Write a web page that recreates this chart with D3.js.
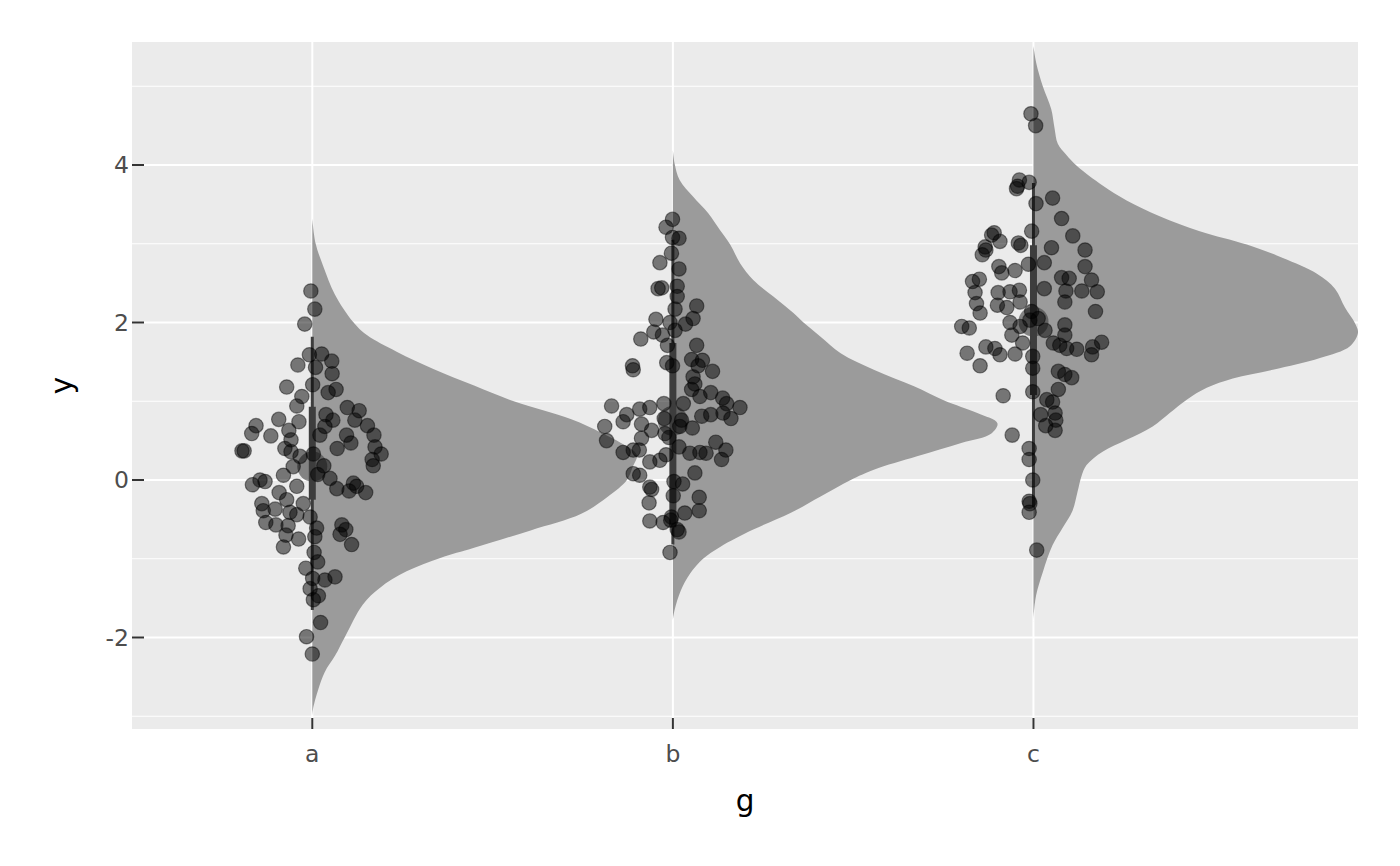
<!DOCTYPE html>
<html>
<head>
<meta charset="utf-8">
<script src="https://cdn.jsdelivr.net/npm/d3@7"></script>
<style>
  html, body { margin: 0; padding: 0; background: #ffffff; }
  svg { display: block; }
  text { font-family: "DejaVu Sans", sans-serif; }
</style>
</head>
<body>
<svg id="chart" width="1400" height="866"></svg>
<script>
// ---------------- DATA ----------------
const categories = ["a", "b", "c"];
const yTicks = [-2, 0, 2, 4];
const yMinorTicks = [-3, -1, 1, 3, 5];
const yTickLabels = ["-2", "0", "2", "4"];

// jittered points: [horizontal jitter (category units), y value]
const pointsA = [
  [-0.004,2.40],[0.007,2.17],[-0.021,1.98],[-0.008,1.59],[0.026,1.60],[0.054,1.51],[-0.040,1.46],[0.009,1.43],
  [0.055,1.35],[0.001,1.21],[-0.071,1.18],[0.044,1.11],[0.066,1.15],[-0.029,1.06],[-0.043,0.94],[0.097,0.92],
  [0.130,0.88],[0.038,0.83],[0.057,0.76],[-0.093,0.77],[-0.037,0.74],[0.118,0.76],[-0.156,0.69],[-0.168,0.59],
  [-0.115,0.56],[-0.065,0.63],[0.035,0.68],[0.021,0.57],[0.153,0.69],[0.171,0.57],[0.095,0.57],[0.107,0.47],
  [0.069,0.40],[-0.059,0.51],[-0.076,0.40],[-0.059,0.36],[-0.034,0.30],[-0.195,0.37],[-0.189,0.37],[0.174,0.42],
  [0.191,0.33],[0.166,0.26],[0.169,0.18],[0.003,0.33],[-0.053,0.17],[0.032,0.18],[-0.080,0.06],[0.015,0.07],
  [0.049,0.02],[-0.145,0.00],[-0.166,-0.06],[-0.131,-0.02],[-0.043,-0.08],[0.068,-0.11],[0.114,-0.04],[0.123,-0.08],
  [0.148,-0.16],[0.102,-0.14],[-0.092,-0.16],[-0.071,-0.25],[-0.140,-0.30],[-0.136,-0.39],[-0.103,-0.37],[-0.025,-0.30],
  [-0.062,-0.41],[-0.043,-0.44],[-0.006,-0.47],[-0.129,-0.54],[-0.101,-0.57],[-0.067,-0.58],[0.012,-0.61],[0.082,-0.57],
  [0.093,-0.63],[0.077,-0.69],[-0.073,-0.70],[-0.038,-0.75],[-0.080,-0.85],[0.007,-0.72],[0.109,-0.82],[0.005,-0.92],
  [0.015,-1.04],[-0.018,-1.12],[0.063,-1.23],[0.035,-1.27],[0.001,-1.25],[-0.006,-1.38],[0.017,-1.47],[0.003,-1.52],
  [0.023,-1.81],[-0.016,-1.99],[0.000,-2.21]
];
const pointsB = [
  [-0.001,3.31],[-0.019,3.21],[-0.001,3.08],[0.017,3.07],[-0.004,2.88],[-0.036,2.76],[0.017,2.68],[-0.041,2.43],
  [-0.031,2.44],[0.012,2.46],[0.012,2.33],[0.006,2.17],[0.066,2.21],[0.056,2.05],[-0.047,2.04],[-0.008,2.00],
  [0.035,1.98],[-0.053,1.88],[0.006,1.90],[-0.029,1.84],[-0.089,1.79],[-0.015,1.71],[0.066,1.71],[-0.017,1.49],
  [-0.001,1.45],[-0.112,1.45],[-0.110,1.40],[0.052,1.53],[0.070,1.45],[0.082,1.52],[0.110,1.38],[0.056,1.31],
  [0.061,1.22],[0.052,1.15],[0.075,1.06],[0.105,1.11],[0.138,1.04],[0.149,0.97],[0.186,0.92],[0.161,0.78],
  [0.139,0.85],[0.105,0.83],[0.080,0.81],[0.029,0.97],[-0.025,0.97],[-0.064,0.92],[-0.092,0.90],[-0.170,0.94],
  [-0.128,0.83],[-0.138,0.74],[-0.024,0.78],[0.024,0.76],[0.019,0.68],[0.054,0.66],[-0.087,0.71],[-0.189,0.68],
  [-0.184,0.50],[-0.059,0.63],[-0.022,0.59],[-0.011,0.54],[-0.087,0.53],[0.017,0.42],[0.119,0.48],[0.147,0.38],
  [0.047,0.34],[0.075,0.35],[0.092,0.34],[0.135,0.26],[-0.138,0.35],[-0.110,0.38],[-0.093,0.38],[-0.019,0.32],
  [-0.036,0.25],[-0.064,0.23],[-0.110,0.08],[-0.092,0.06],[0.061,0.09],[0.003,-0.02],[0.027,-0.05],[-0.064,-0.09],
  [-0.059,-0.12],[0.001,-0.20],[0.073,-0.22],[-0.066,-0.29],[0.073,-0.39],[0.033,-0.42],[-0.004,-0.47],[-0.064,-0.52],
  [-0.027,-0.54],[-0.006,-0.51],[0.012,-0.63],[0.017,-0.66],[-0.008,-0.92]
];
const pointsC = [
  [-0.007,4.65],[0.006,4.50],[-0.039,3.81],[-0.047,3.70],[-0.012,3.78],[-0.044,3.73],[0.007,3.51],[0.053,3.58],
  [0.078,3.32],[0.109,3.10],[0.143,2.92],[0.143,2.71],[0.161,2.54],[0.177,2.39],[0.172,2.14],[0.050,2.95],
  [-0.005,3.16],[-0.109,3.14],[-0.116,3.11],[-0.093,3.03],[-0.134,2.96],[-0.132,2.92],[-0.142,2.86],[-0.042,3.01],
  [-0.035,2.98],[0.030,2.76],[-0.014,2.74],[-0.096,2.71],[-0.088,2.63],[-0.051,2.66],[0.078,2.57],[0.099,2.56],
  [-0.169,2.52],[-0.150,2.55],[-0.162,2.38],[-0.098,2.38],[-0.065,2.39],[-0.039,2.41],[0.030,2.43],[0.090,2.40],
  [0.134,2.40],[0.087,2.26],[-0.158,2.24],[-0.100,2.22],[-0.074,2.19],[-0.037,2.26],[-0.148,2.12],[-0.005,2.14],
  [0.013,2.05],[-0.010,2.03],[-0.065,2.00],[-0.199,1.95],[-0.178,1.93],[-0.037,1.95],[0.032,1.90],[-0.060,1.84],
  [0.087,1.97],[0.087,1.84],[0.055,1.74],[0.073,1.71],[0.092,1.67],[0.120,1.66],[0.164,1.69],[0.161,1.59],
  [0.189,1.75],[-0.030,1.74],[-0.132,1.69],[-0.107,1.67],[-0.093,1.59],[-0.051,1.60],[-0.184,1.61],[-0.148,1.45],
  [-0.002,1.57],[-0.002,1.42],[0.069,1.38],[0.087,1.34],[0.106,1.30],[0.069,1.15],[-0.002,1.12],[-0.084,1.07],
  [0.037,1.02],[0.053,0.99],[0.020,0.83],[0.060,0.85],[0.062,0.76],[0.034,0.69],[0.060,0.63],[-0.059,0.57],
  [-0.012,0.40],[-0.012,0.26],[-0.002,0.00],[-0.012,-0.27],[-0.010,-0.30],[-0.012,-0.41],[0.009,-0.89]
];

// half-violin (slab) density profiles: y values and relative density
const slabYA = [3.32,3.00,2.70,2.36,2.01,1.84,1.63,1.41,1.20,1.00,0.77,0.60,0.47,0.32,0.17,0.00,-0.21,-0.43,-0.64,-0.86,-0.99,-1.16,-1.37,-1.58,-1.99,-2.23,-2.44,-2.66,-2.91,-3.00];
const slabDA = [0,3.4,11.5,22.6,41,55,85,122,163,203,261,291,311,327,323,317,298,271,220,163,129,95,68,51,33,23,12.5,6,0.7,0];
const slabYB = [4.19,4.02,3.81,3.60,3.39,3.17,2.99,2.75,2.54,2.33,2.12,2.00,1.82,1.61,1.40,1.19,1.01,0.85,0.72,0.59,0.47,0.30,0.13,0.00,-0.21,-0.42,-0.63,-0.85,-1.00,-1.19,-1.40,-1.65,-1.78];
const slabDB = [0,1.7,6.7,20,35,47,57,67,80,100,120,130,147,167,200,240,270,303,323,317,287,243,200,177,147,117,80,47,30,17,8,1.7,0];
const slabYC = [5.51,5.30,5.00,4.71,4.47,4.27,4.13,3.98,3.74,3.55,3.35,3.16,2.99,2.82,2.62,2.43,2.19,1.99,1.87,1.70,1.55,1.40,1.29,1.17,1.02,0.85,0.68,0.51,0.36,0.19,0.05,-0.15,-0.39,-0.61,-0.83,-1.17,-1.46,-1.70,-1.80];
const slabDC = [0,2.7,9.3,17.7,21,24.3,32.7,44,69,93,126,166,213,249,283,301,311,321,324,316,286,239,199,173,153,136,119,93,69,53,48,44,39,29,19,9.3,2.7,0.3,0];

// point + interval summaries
const medians   = [0.17, 0.75, 2.01];
const thickLow  = [-0.25, -0.60, 1.08];
const thickHigh = [0.93, 1.74, 2.98];
const thinLow   = [-1.65, -0.82, -0.34];
const thinHigh  = [1.82, 3.05, 3.77];

const xTitle = "g";
const yTitle = "y";

// ---------------- LAYOUT ----------------
const svg = d3.select("#chart");
const panel = { left: 132, right: 1358, top: 42, bottom: 729 };
const slabScale = 0.9;

const x = d3.scaleLinear().domain([0.5, 3.9]).range([panel.left, panel.right]);
const y = d3.scaleLinear().domain([-3.162, 5.562]).range([panel.bottom, panel.top]);

svg.append("defs").append("clipPath").attr("id", "panelClip")
  .append("rect")
  .attr("x", panel.left).attr("y", panel.top)
  .attr("width", panel.right - panel.left).attr("height", panel.bottom - panel.top);

// panel background
svg.append("rect")
  .attr("x", panel.left).attr("y", panel.top)
  .attr("width", panel.right - panel.left).attr("height", panel.bottom - panel.top)
  .attr("fill", "#ebebeb");

const grid = svg.append("g");
grid.selectAll("line.minor").data(yMinorTicks).join("line")
  .attr("x1", panel.left).attr("x2", panel.right)
  .attr("y1", d => y(d)).attr("y2", d => y(d))
  .attr("stroke", "#ffffff").attr("stroke-width", 1);
grid.selectAll("line.major").data(yTicks).join("line")
  .attr("x1", panel.left).attr("x2", panel.right)
  .attr("y1", d => y(d)).attr("y2", d => y(d))
  .attr("stroke", "#ffffff").attr("stroke-width", 2);
grid.selectAll("line.vmajor").data(categories).join("line")
  .attr("x1", (d, i) => x(i + 1)).attr("x2", (d, i) => x(i + 1))
  .attr("y1", panel.top).attr("y2", panel.bottom)
  .attr("stroke", "#ffffff").attr("stroke-width", 2);

const plot = svg.append("g").attr("clip-path", "url(#panelClip)");

// slabs
const slabs = [
  { ys: slabYA, ds: slabDA },
  { ys: slabYB, ds: slabDB },
  { ys: slabYC, ds: slabDC }
];
slabs.forEach((s, i) => {
  const maxD = d3.max(s.ds);
  const pts = s.ys.map((v, k) => [v, s.ds[k] / maxD]);
  const area = d3.area()
    .curve(d3.curveCatmullRom.alpha(0.5))
    .y(d => y(d[0]))
    .x0(() => x(i + 1))
    .x1(d => x(i + 1 + d[1] * slabScale));
  plot.append("path").datum(pts).attr("d", area).attr("fill", "#9b9b9b");
});

// intervals
const lineColor = "#3d3d3d";
categories.forEach((c, i) => {
  plot.append("line")
    .attr("x1", x(i + 1)).attr("x2", x(i + 1))
    .attr("y1", y(thinLow[i])).attr("y2", y(thinHigh[i]))
    .attr("stroke", lineColor).attr("stroke-width", 3);
  plot.append("line")
    .attr("x1", x(i + 1)).attr("x2", x(i + 1))
    .attr("y1", y(thickLow[i])).attr("y2", y(thickHigh[i]))
    .attr("stroke", lineColor).attr("stroke-width", 7);
  plot.append("circle")
    .attr("cx", x(i + 1)).attr("cy", y(medians[i]))
    .attr("r", 15)
    .attr("fill", lineColor).attr("fill-opacity", 0.6);
});

// points
const allPoints = [pointsA, pointsB, pointsC];
allPoints.forEach((arr, i) => {
  plot.append("g").selectAll("circle").data(arr).join("circle")
    .attr("cx", d => x(i + 1 + d[0]))
    .attr("cy", d => y(d[1]))
    .attr("r", 7.2)
    .attr("fill", "#000000").attr("fill-opacity", 0.5)
    .attr("stroke", "#000000").attr("stroke-opacity", 0.45).attr("stroke-width", 1.2);
});

// ticks
const tickLen = 12;
svg.append("g").selectAll("line").data(yTicks).join("line")
  .attr("x1", panel.left).attr("x2", panel.left + tickLen)
  .attr("y1", d => y(d)).attr("y2", d => y(d))
  .attr("stroke", "#333333").attr("stroke-width", 2);
svg.append("g").selectAll("line").data(categories).join("line")
  .attr("x1", (d, i) => x(i + 1)).attr("x2", (d, i) => x(i + 1))
  .attr("y1", panel.bottom - tickLen + 1).attr("y2", panel.bottom)
  .attr("stroke", "#333333").attr("stroke-width", 2);

// tick labels
svg.append("g").selectAll("text").data(yTicks).join("text")
  .attr("x", panel.left - 3)
  .attr("y", d => y(d))
  .attr("dy", "0.36em")
  .attr("text-anchor", "end")
  .attr("font-size", 23.5)
  .attr("fill", "#4d4d4d")
  .text((d, i) => yTickLabels[i]);
svg.append("g").selectAll("text").data(categories).join("text")
  .attr("x", (d, i) => x(i + 1))
  .attr("y", 762)
  .attr("text-anchor", "middle")
  .attr("font-size", 23.5)
  .attr("fill", "#4d4d4d")
  .text(d => d);

// axis titles
svg.append("text")
  .attr("x", (panel.left + panel.right) / 2)
  .attr("y", 811)
  .attr("text-anchor", "middle")
  .attr("font-size", 29.5)
  .attr("fill", "#000000")
  .text(xTitle);
svg.append("text")
  .attr("transform", `translate(72,${(panel.top + panel.bottom) / 2}) rotate(-90)`)
  .attr("text-anchor", "middle")
  .attr("font-size", 29.5)
  .attr("fill", "#000000")
  .text(yTitle);
</script>
</body>
</html>
